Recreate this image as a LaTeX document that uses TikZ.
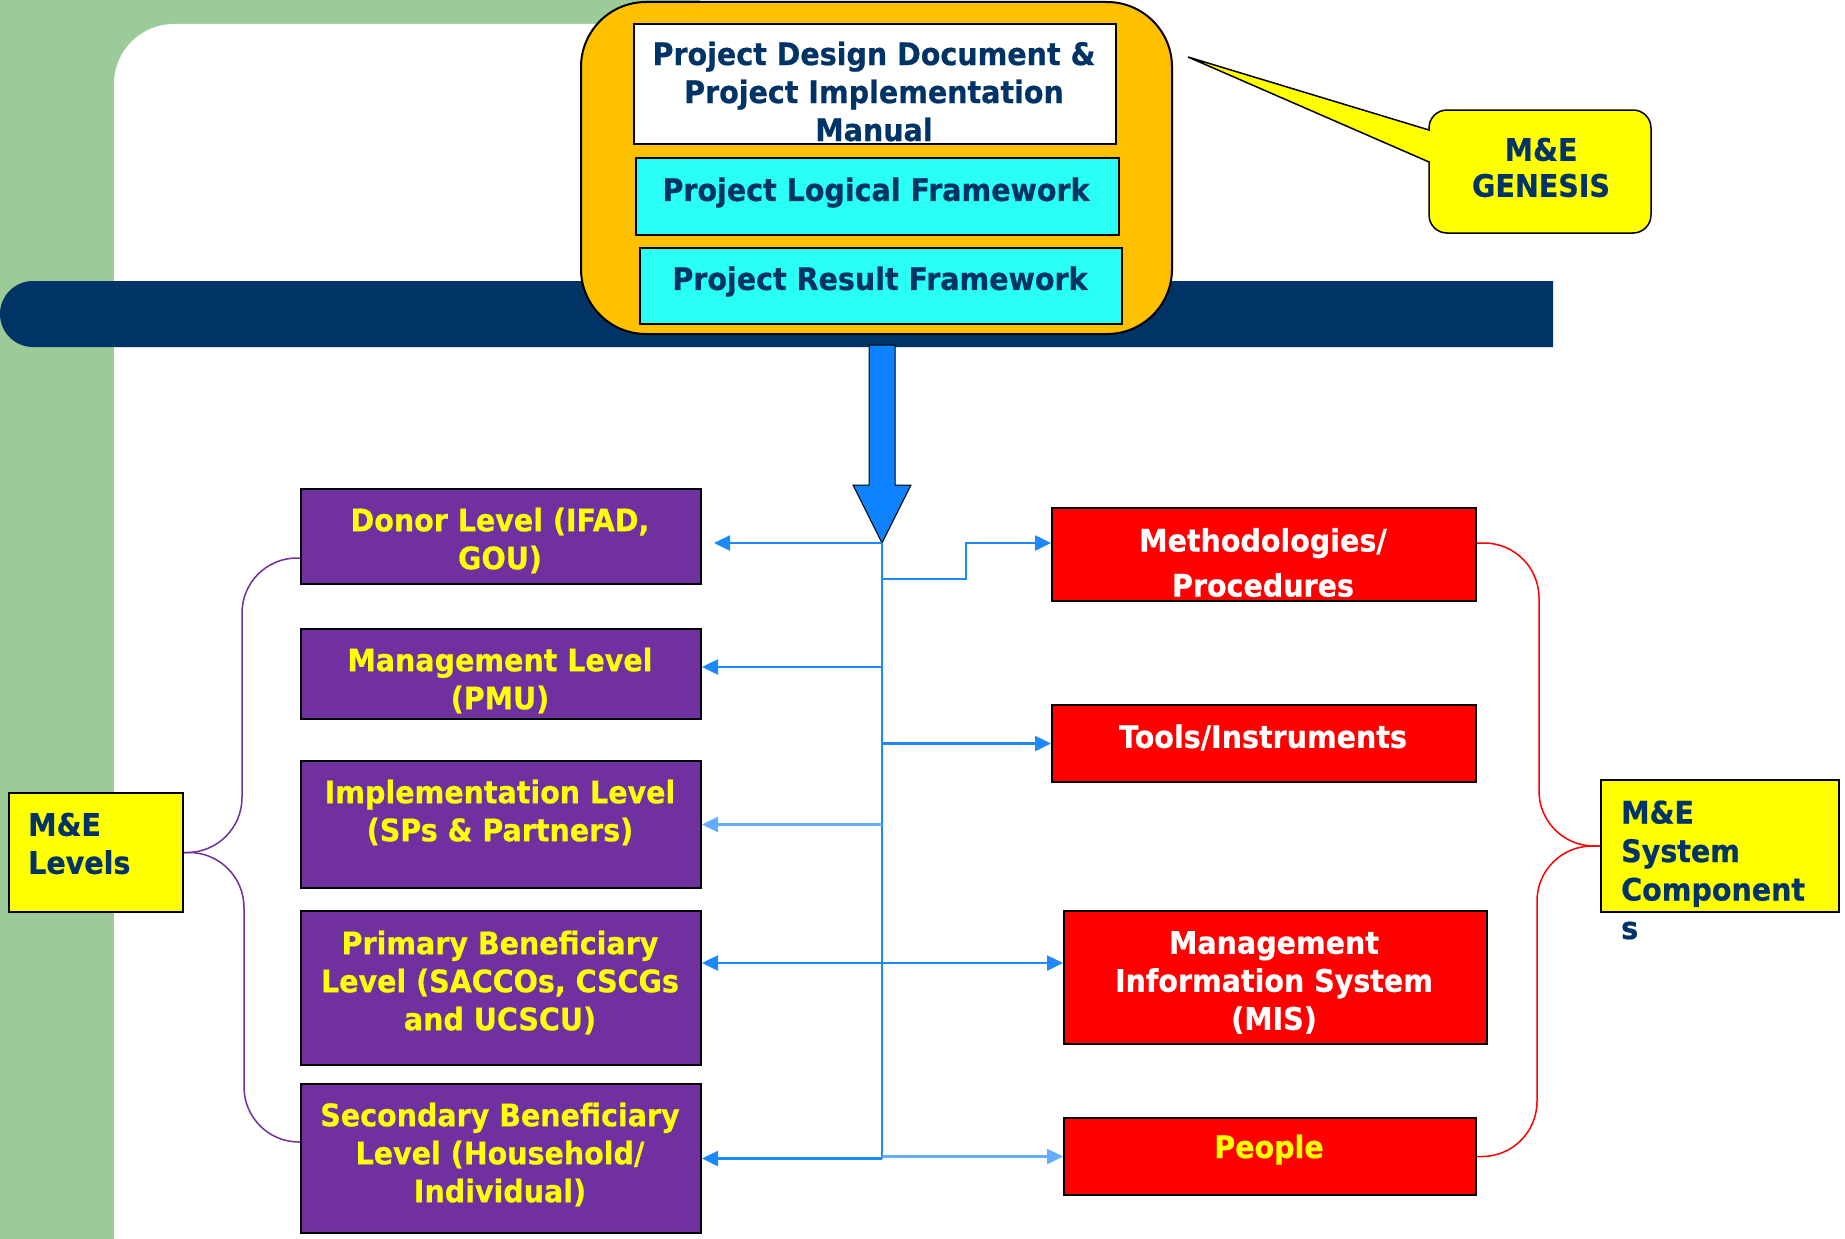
\documentclass[tikz,border=0pt]{standalone}
\usepackage{fontspec}
\newfontfamily\tfont{DejaVu Sans}[FakeStretch=0.92,FakeBold=0.6]
\usetikzlibrary{arrows.meta}
\definecolor{bggreen}{RGB}{155,203,152}
\definecolor{navy}{RGB}{0,51,102}
\definecolor{orng}{RGB}{255,192,0}
\definecolor{cyanb}{RGB}{42,255,245}
\definecolor{purp}{RGB}{112,48,160}
\definecolor{yel}{RGB}{255,255,0}
\definecolor{redb}{RGB}{255,0,0}
\definecolor{bigblue}{RGB}{15,130,255}
\definecolor{conncol}{RGB}{30,136,255}
\definecolor{connlight}{RGB}{100,172,255}
\begin{document}
\begin{tikzpicture}[x=1pt,y=-1pt,
  box/.style={draw=black, line width=2pt, anchor=north west, inner sep=0pt},
  txt/.style={font=\tfont\bfseries\fontsize{31}{38}\selectfont, align=center, inner sep=0pt, yshift=-2.5pt},
  conn/.style={draw=conncol, line width=2.5pt},
  connl/.style={draw=connlight, line width=2.5pt},
  arr/.style={-{Triangle[length=16pt,width=15pt]}},
  brace/.style={line width=1.5pt, rounded corners=55pt}]
\useasboundingbox (0,0) rectangle (1845,1239);
% background
\fill[white] (0,0) rectangle (1845,1239);
\fill[bggreen] (0,0) rectangle (700,1239);
\fill[white] (114,1239) -- (114,84) arc[start angle=180, end angle=270, radius=60] -- (1845,24) -- (1845,1239) -- cycle;
\fill[navy] (1553,281) -- (33,281) arc[start angle=270, end angle=90, radius=33] -- (1553,347) -- cycle;
% top frame
\node[box, fill=orng, rounded corners=65pt, minimum width=591pt, minimum height=332pt] (frame) at (580,1) {};
\node[box, fill=white, minimum width=482pt, minimum height=120pt] (pdd) at (633,23) {};
\node[txt, text=navy] (tpdd) at (874,89) {Project Design Document \&\\Project Implementation\\Manual};
\node[box, fill=cyanb, minimum width=483pt, minimum height=77pt] (plf) at (635,157) {};
\node[txt, text=navy] (tplf) at (876,190) {Project Logical Framework};
\node[box, fill=cyanb, minimum width=482pt, minimum height=76pt] (prf) at (639,247) {};
\node[txt, text=navy] (tprf) at (880,279) {Project Result Framework};
% callout
\draw[fill=yel, line width=1.5pt] (1429,162) -- (1429,215) arc[start angle=180, end angle=90, radius=18]
  -- (1633,233) arc[start angle=90, end angle=0, radius=18]
  -- (1651,128) arc[start angle=0, end angle=-90, radius=18]
  -- (1447,110) arc[start angle=270, end angle=180, radius=18]
  -- (1429,130) -- (1188,57) -- cycle;
\node[txt, text=navy, font=\tfont\bfseries\fontsize{31}{36}\selectfont] (gen) at (1541,165) {M\&E\\GENESIS};
% big arrow
\coordinate (tip) at (882,543);
\draw[fill=bigblue, draw=black, line width=1pt] (869,345) -- (895,345) -- (895,485) -- (911,485) -- (tip) -- (853,485) -- (869,485) -- cycle;
% levels
\node[box, fill=purp, minimum width=400pt, minimum height=95pt] (donor) at (300,488) {};
\node[txt, text=yel] (tdonor) at (500,538) {Donor Level (IFAD,\\GOU)};
\node[box, fill=purp, minimum width=400pt, minimum height=90pt] (mgmt) at (300,628) {};
\node[txt, text=yel] (tmgmt) at (500,678) {Management Level\\(PMU)};
\node[box, fill=purp, minimum width=400pt, minimum height=127pt] (impl) at (300,760) {};
\node[txt, text=yel] (timpl) at (500,810) {Implementation Level\\(SPs \& Partners)};
\node[box, fill=purp, minimum width=400pt, minimum height=154pt] (prim) at (300,910) {};
\node[txt, text=yel] (tprim) at (500,980) {Primary Beneficiary\\Level (SACCOs, CSCGs\\and UCSCU)};
\node[box, fill=purp, minimum width=400pt, minimum height=149pt] (sec) at (300,1083) {};
\node[txt, text=yel] (tsec) at (500,1152) {Secondary Beneficiary\\Level (Household/\\Individual)};
\node[box, fill=yel, minimum width=174pt, minimum height=119pt] (mel) at (8,792) {};
\node[txt, text=navy, anchor=west, align=left] (tmel) at (28,841) {M\&E\\Levels};
% components
\node[box, fill=redb, minimum width=424pt, minimum height=93pt] (meth) at (1051,507) {};
\node[txt, text=white, font=\tfont\bfseries\fontsize{31}{45}\selectfont] (tmeth) at (1263,560) {Methodologies/\\Procedures};
\node[box, fill=redb, minimum width=424pt, minimum height=77pt] (tools) at (1051,704) {};
\node[txt, text=white] (ttools) at (1263,735) {Tools/Instruments};
\node[box, fill=redb, minimum width=423pt, minimum height=133pt] (mis) at (1063,910) {};
\node[txt, text=white] (tmis) at (1274,980) {Management\\Information System\\(MIS)};
\node[box, fill=redb, minimum width=412pt, minimum height=77pt] (people) at (1063,1117) {};
\node[txt, text=yel] (tpeople) at (1269,1147) {People};
\node[box, fill=yel, minimum width=238pt, minimum height=132pt] (comp) at (1600,779) {};
\node[txt, text=navy, anchor=west, align=left, font=\tfont\bfseries\fontsize{31}{38.5}\selectfont] (tcomp) at (1621,867.5) {M\&E\\System\\Component\\s};
% braces
\draw[brace, purp] ([yshift=27pt]donor.south west) -- ++(-58,0) |- (mel.east);
\draw[brace, purp] (mel.east) -- ++(60,0) |- ([yshift=-59pt]sec.north west);
\draw[brace, redb] ([yshift=-36pt]meth.north east) -- ++(62,0) |- (comp.west);
\draw[brace, redb] (comp.west) -- ++(-63,0) |- (people.east);
% connectors
\draw[conn] (tip) -- (tip |- sec.east);
\path ([xshift=12pt]donor.east) coordinate (dA);
\draw[conn, arr] (tip) -- (dA |- tip);
\path ([yshift=7pt]mgmt.east) coordinate (mA);
\draw[conn, arr] (tip |- mA) -- (mA);
\draw[connl, arr] (tip |- impl.east) -- (impl.east);
\path ([yshift=25pt]prim.east) coordinate (pA);
\draw[conn, arr] (tip |- pA) -- (pA);
\draw[conn, arr] (tip |- pA) -- (mis.west |- pA);
\draw[conn, arr] (tip |- sec.east) -- (sec.east);
\draw[connl, arr] (tip |- people.west) -- (people.west);
\draw[conn, arr] ([yshift=-36pt]tip) -- ++(84,0) |- (meth.west |- tip);
\draw[conn, arr] (tip |- tools.west) -- (tools.west);
\end{tikzpicture}
\end{document}
